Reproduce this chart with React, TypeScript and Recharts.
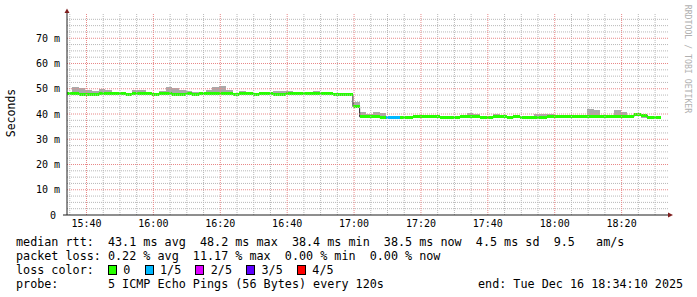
import React from 'react';
import { ComposedChart, Area, XAxis, YAxis, ReferenceLine, ReferenceDot } from 'recharts';

// ---- time axis: seconds since midnight; window ends Tue Dec 16 18:34:10 2025
const WINDOW_START = 56050; // 15:34:10
const WINDOW_END = 66850; // 18:34:10
const STEP_SEC = 120;
const FIRST_STEP_START = 56020;

const X_TICKS = [56400, 57600, 58800, 60000, 61200, 62400, 63600, 64800, 66000];
const X_TICK_LABELS = ['15:40', '16:00', '16:20', '16:40', '17:00', '17:20', '17:40', '18:00', '18:20'];
const Y_TICKS = [0, 10, 20, 30, 40, 50, 60, 70];
const Y_TICK_LABELS = ['0', '10 m', '20 m', '30 m', '40 m', '50 m', '60 m', '70 m'];

// ---- median rtt per 120 s step (ms)
const medianRtt = [
  48.2, 48.2, 47.7, 47.7, 47.7, 48.2, 48.2, 48.2, 48.2, 47.7,
  48.2, 48.2, 48.2, 47.7, 48.2, 48.2, 47.7, 47.7, 48.2, 47.7,
  48.2, 48.2, 48.2, 48.2, 48.2, 47.7, 48.2, 48.2, 47.7, 48.2,
  48.2, 47.7, 47.7, 48.2, 48.2, 48.2, 48.2, 48.2, 48.2, 48.2,
  47.7, 47.7, 47.7, 42.9, 38.9, 38.9, 38.9, 38.5, 38.5, 38.5,
  38.5, 38.5, 38.9, 38.9, 38.9, 38.9, 38.5, 38.5, 38.5, 38.9,
  38.9, 38.9, 38.5, 38.5, 38.9, 38.9, 38.5, 38.9, 38.5, 38.5,
  38.5, 38.5, 38.9, 38.9, 38.9, 38.9, 38.9, 38.9, 38.9, 38.9,
  38.9, 38.9, 38.9, 38.9, 38.9, 39.7, 39.5, 38.5, 38.5,
];
// ---- smoke (ping spread) per step (ms)
const smokeMax = [
  48.7, 50.8, 50.4, 49.6, 49.3, 50.0, 49.6, 48.7, 48.7, 48.2,
  49.6, 49.6, 48.7, 48.2, 49.0, 50.8, 50.3, 49.7, 49.2, 48.7,
  48.7, 49.6, 50.8, 51.2, 49.6, 48.2, 49.2, 48.8, 48.2, 48.7,
  48.7, 49.0, 49.2, 49.2, 48.7, 48.7, 48.8, 49.2, 48.8, 48.7,
  48.2, 48.2, 48.2, 44.9, 40.9, 39.9, 40.9, 40.4, 38.9, 38.9,
  38.9, 38.9, 39.2, 39.2, 39.2, 39.2, 38.9, 38.9, 38.9, 39.2,
  40.4, 40.0, 38.9, 38.9, 40.1, 39.7, 38.9, 39.2, 38.9, 38.9,
  40.1, 40.1, 40.1, 39.7, 39.2, 39.2, 39.2, 39.2, 42.0, 41.7,
  39.2, 39.2, 41.4, 40.6, 39.2, 40.3, 39.6, 38.9, 38.9,
];
const smokeMin = [
  47.8, 47.8, 47.3, 47.3, 47.3, 47.8, 47.8, 47.8, 47.8, 47.3,
  47.8, 47.8, 47.8, 47.3, 47.8, 47.8, 47.3, 47.3, 47.8, 47.3,
  47.8, 47.8, 47.8, 47.8, 47.8, 47.3, 47.8, 47.8, 47.3, 47.8,
  47.8, 47.3, 47.3, 47.8, 47.8, 47.8, 47.8, 47.8, 47.8, 47.8,
  47.3, 47.3, 47.3, 42.5, 38.6, 38.6, 38.6, 38.2, 38.2, 38.2,
  38.2, 38.2, 38.6, 38.6, 38.6, 38.6, 38.2, 38.2, 38.2, 38.6,
  38.6, 38.6, 38.2, 38.2, 38.6, 38.6, 38.2, 38.6, 38.2, 38.2,
  38.2, 38.2, 38.6, 38.6, 38.6, 38.6, 38.6, 38.6, 38.6, 38.6,
  38.6, 38.6, 38.6, 38.6, 38.6, 39.3, 38.5, 38.2, 38.2,
];
// ---- lost pings per step (out of 5)
const lossLevel = [
  0, 0, 0, 0, 0, 0, 0, 0, 0, 0,
  0, 0, 0, 0, 0, 0, 0, 0, 0, 0,
  0, 0, 0, 0, 0, 0, 0, 0, 0, 0,
  0, 0, 0, 0, 0, 0, 0, 0, 0, 0,
  0, 0, 0, 0, 0, 0, 0, 0, 1, 1,
  0, 0, 0, 0, 0, 0, 0, 0, 0, 0,
  0, 0, 0, 0, 0, 0, 0, 0, 0, 0,
  0, 0, 0, 0, 0, 0, 0, 0, 0, 0,
  0, 0, 0, 0, 0, 0, 0, 0, 0,
];

const LOSS_COLORS = ['#26ff00', '#00b8ff', '#dd00ff', '#5e00ff', '#ff0000'];
const LOSS_LABELS = ['0', '1/5', '2/5', '3/5', '4/5'];

const STATS_RTT = 'median rtt:  43.1 ms avg  48.2 ms max  38.4 ms min  38.5 ms now  4.5 ms sd  9.5   am/s';
const STATS_LOSS = 'packet loss: 0.22 % avg  11.17 % max  0.00 % min  0.00 % now';
const PROBE_TEXT = 'probe:       5 ICMP Echo Pings (56 Bytes) every 120s';
const END_TEXT = 'end: Tue Dec 16 18:34:10 2025';

const BAND = 0.6;
const N = medianRtt.length;
const rows: any[] = [];
for (let i = 0; i <= N; i++) {
  const last = i === N;
  const k = last ? N - 1 : i;
  const t = i === 0 ? WINDOW_START : FIRST_STEP_START + STEP_SEC * i;
  const row: any = { t, med: medianRtt[k], smoke: [smokeMin[k], smokeMax[k]] };
  LOSS_COLORS.forEach((_, c) => {
    let v: any = null;
    if (!last && lossLevel[i] === c) v = [medianRtt[i] - BAND, medianRtt[i] + BAND];
    else if (i > 0 && lossLevel[i - 1] === c) v = [medianRtt[i - 1] - BAND, medianRtt[i - 1] + BAND];
    row['loss' + c] = v;
  });
  rows.push(row);
}

const MINOR_Y: number[] = [];
for (let v = 2.5; v < 80; v += 2.5) if (v % 10 !== 0) MINOR_Y.push(v);
const MAJOR_Y = Y_TICKS.filter((v) => v > 0);
const MINOR_X: number[] = [];
for (let t = 56100; t < WINDOW_END; t += 300) if ((t - 56400) % 1200 !== 0) MINOR_X.push(t);

const MONO = '"DejaVu Sans Mono", monospace';
const GRID_MINOR = '#b8b8b8';
const GRID_MAJOR = '#e88888';
const AXIS_COL = '#1f1f1f';
const ARROW_COL = '#7f1f1f';

const XTick = (p: any) => {
  const i = X_TICKS.indexOf(p.payload.value);
  return (
    <text x={p.x} y={p.y + 12} textAnchor="middle" fontFamily={MONO} fontSize={10} fill="#000">
      {X_TICK_LABELS[i]}
    </text>
  );
};
const YTick = (p: any) => {
  const i = Y_TICKS.indexOf(p.payload.value);
  const label = Y_TICK_LABELS[i];
  const shift = label.indexOf(' ') < 0 ? 11 : 7;
  return (
    <text x={p.x - shift} y={p.y + 3.5} textAnchor="end" fontFamily={MONO} fontSize={10} fill="#000">
      {label}
    </text>
  );
};

export default function App() {
  const textLine: React.CSSProperties = {
    position: 'absolute',
    left: 16,
    fontFamily: MONO,
    fontSize: 11.75,
    lineHeight: '14px',
    whiteSpace: 'pre',
    color: '#000',
  };
  return (
    <div style={{ position: 'absolute', left: 0, top: 0, width: 697, height: 297, background: '#fff' }}>
      <ComposedChart width={697} height={297} data={rows} margin={{ top: 13, right: 28, bottom: 65, left: 0 }}>
        <XAxis
          dataKey="t"
          type="number"
          domain={[WINDOW_START, WINDOW_END]}
          ticks={X_TICKS}
          tick={XTick}
          axisLine={false}
          tickLine={false}
          tickSize={0}
          tickMargin={0}
          height={17}
          allowDataOverflow
        />
        <YAxis
          type="number"
          domain={[0, 80]}
          ticks={Y_TICKS}
          tick={YTick}
          axisLine={false}
          tickLine={false}
          tickSize={0}
          tickMargin={0}
          width={67}
          allowDataOverflow
        />
        {MINOR_Y.map((v) => (
          <ReferenceLine key={'my' + v} y={v} stroke={GRID_MINOR} strokeDasharray="1 1" />
        ))}
        {MINOR_X.map((t) => (
          <ReferenceLine key={'mx' + t} x={t} stroke={GRID_MINOR} strokeDasharray="1 1" />
        ))}
        {MAJOR_Y.map((v) => (
          <ReferenceLine key={'My' + v} y={v} stroke={GRID_MAJOR} strokeDasharray="1 1" />
        ))}
        {X_TICKS.map((t) => (
          <ReferenceLine key={'Mx' + t} x={t} stroke={GRID_MAJOR} strokeDasharray="1 1" />
        ))}
        <Area
          dataKey="smoke"
          type="stepAfter"
          stroke="none"
          fill="#aaaaaa"
          fillOpacity={1}
          dot={false}
          activeDot={false}
          isAnimationActive={false}
          shapeRendering="crispEdges"
        />
        <Area
          dataKey="med"
          type="stepAfter"
          stroke="#202020"
          strokeWidth={1}
          fill="none"
          fillOpacity={0}
          dot={false}
          activeDot={false}
          isAnimationActive={false}
        />
        {LOSS_COLORS.map((col, c) => (
          <Area
            key={'loss' + c}
            dataKey={'loss' + c}
            type="stepAfter"
            stroke="none"
            fill={col}
            fillOpacity={1}
            dot={false}
            activeDot={false}
            isAnimationActive={false}
            shapeRendering="crispEdges"
          />
        ))}
        <ReferenceLine
          segment={[{ x: WINDOW_START - 72, y: 0 }, { x: WINDOW_END, y: 0 }]}
          stroke={AXIS_COL}
          ifOverflow="visible"
        />
        <ReferenceLine
          segment={[{ x: WINDOW_START, y: 0 }, { x: WINDOW_START, y: 80.8 }]}
          stroke={AXIS_COL}
          ifOverflow="visible"
        />
        <ReferenceDot
          x={WINDOW_END}
          y={0}
          r={0}
          ifOverflow="visible"
          shape={(p: any) => (
            <path d={`M${p.cx - 1},${p.cy - 2.5} L${p.cx + 4},${p.cy} L${p.cx - 1},${p.cy + 2.5} Z`} fill={ARROW_COL} />
          )}
        />
        <ReferenceDot
          x={WINDOW_START}
          y={80}
          r={0}
          ifOverflow="visible"
          shape={(p: any) => (
            <path d={`M${p.cx - 2.5},${p.cy} L${p.cx},${p.cy - 4.5} L${p.cx + 2.5},${p.cy} Z`} fill={ARROW_COL} />
          )}
        />
      </ComposedChart>

      <div
        style={{
          position: 'absolute',
          left: 11 - 40,
          top: 113 - 7,
          width: 80,
          height: 14,
          lineHeight: '14px',
          textAlign: 'center',
          transform: 'rotate(-90deg)',
          fontFamily: MONO,
          fontSize: 11.5,
          color: '#000',
        }}
      >
        Seconds
      </div>
      <div
        style={{
          position: 'absolute',
          left: 687.5 - 60,
          top: 59 - 5,
          width: 120,
          height: 10,
          lineHeight: '10px',
          textAlign: 'center',
          transform: 'rotate(90deg)',
          fontFamily: MONO,
          fontSize: 8.2,
          color: '#b0b0b0',
          whiteSpace: 'pre',
        }}
      >
        RRDTOOL / TOBI OETIKER
      </div>

      <div style={{ ...textLine, top: 234.7 }}>{STATS_RTT}</div>
      <div style={{ ...textLine, top: 248.7 }}>{STATS_LOSS}</div>
      <div style={{ ...textLine, top: 262.7, display: 'flex', alignItems: 'center' }}>
        <span>{'loss color:  '}</span>
        {LOSS_COLORS.map((col, c) => (
          <React.Fragment key={c}>
            <span
              style={{
                display: 'inline-block',
                width: 7,
                height: 8,
                border: '1px solid #000',
                background: col,
                marginRight: 6.4,
              }}
            />
            <span>{LOSS_LABELS[c]}</span>
            <span>{'  '}</span>
          </React.Fragment>
        ))}
      </div>
      <div style={{ ...textLine, top: 277 }}>{PROBE_TEXT}</div>
      <div style={{ ...textLine, left: 478, top: 277 }}>{END_TEXT}</div>
    </div>
  );
}
